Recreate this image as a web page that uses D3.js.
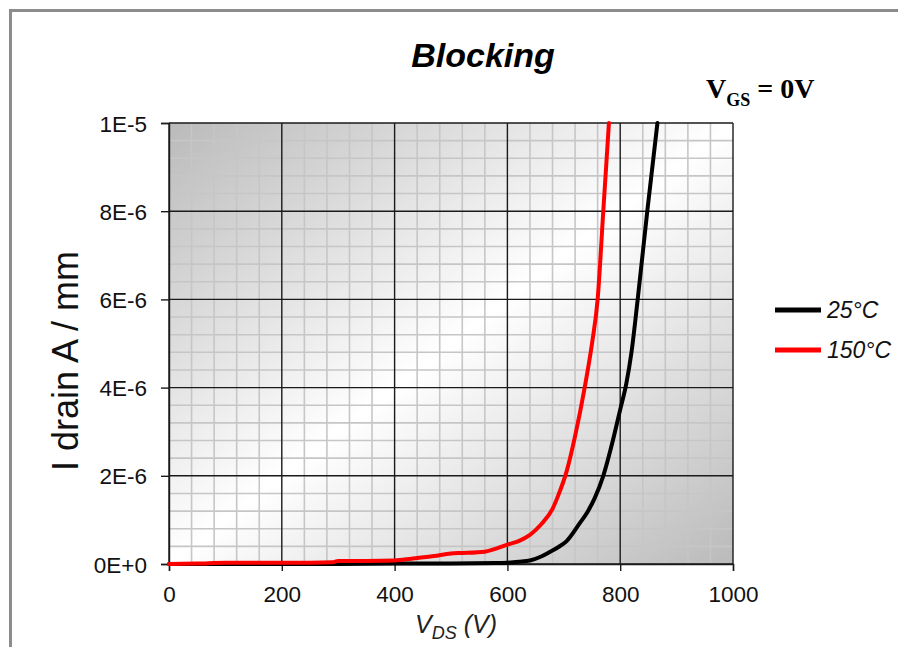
<!DOCTYPE html>
<html>
<head>
<meta charset="utf-8">
<script src="https://cdn.jsdelivr.net/npm/d3@7"></script>
<style>
  html, body { margin: 0; padding: 0; background: #fff; }
  svg { display: block; font-family: "Liberation Sans", Arial, sans-serif; }
</style>
</head>
<body>
<svg id="chart" width="898" height="647"></svg>
<script>
// Drain leakage current vs. drain-source voltage, V_GS = 0 V
const vds25 = [0, 300, 400, 500, 580, 600, 620, 640, 660, 675, 690, 705, 728, 742, 755, 770, 787, 800, 811, 820, 831, 848, 866];
const id25  = [0, 0, 0.01, 0.01, 0.02, 0.03, 0.05, 0.08, 0.17, 0.27, 0.38, 0.52, 0.92, 1.18, 1.5, 2.0, 2.8, 3.5, 4.1, 4.8, 6.0, 8.0, 10.0];

const vds150 = [0, 50, 100, 150, 200, 250, 290, 300, 350, 400, 430, 470, 500, 520, 560, 580, 600, 620, 640, 660, 680, 690, 705, 720, 737, 750, 760, 770, 780];
const id150  = [0, 0.01, 0.03, 0.03, 0.03, 0.03, 0.04, 0.07, 0.07, 0.08, 0.12, 0.18, 0.24, 0.25, 0.28, 0.35, 0.44, 0.52, 0.66, 0.9, 1.25, 1.55, 2.1, 2.9, 4.0, 5.0, 6.0, 8.0, 10.0];

const xTicks = [0, 200, 400, 600, 800, 1000];
const yTicks = [0, 2e-6, 4e-6, 6e-6, 8e-6, 1e-5];
const yTickLabels = ["0E+0", "2E-6", "4E-6", "6E-6", "8E-6", "1E-5"];

const seriesNames = ["25°C", "150°C"];
const seriesColors = ["#000000", "#ff0000"];

const svg = d3.select("#chart");
const plotL = 169, plotR = 733, plotT = 123, plotB = 564;

const x = d3.scaleLinear().domain([0, 1000]).range([plotL, plotR]);
const y = d3.scaleLinear().domain([0, 1e-5]).range([plotB, plotT]);

// Outer frame (top and left edges)
svg.append("path")
  .attr("d", `M10.5,647 L10.5,10.5 L898,10.5`)
  .attr("fill", "none").attr("stroke", "#8c8c8c").attr("stroke-width", 3);

// Plot-area shading
const defs = svg.append("defs");
const grad = defs.append("linearGradient").attr("id", "plotBg")
  .attr("x1", 0).attr("y1", 0).attr("x2", 1).attr("y2", 1);
grad.append("stop").attr("offset", "0%").attr("stop-color", "#bababa");
grad.append("stop").attr("offset", "50%").attr("stop-color", "#ffffff");
grad.append("stop").attr("offset", "100%").attr("stop-color", "#bababa");

svg.append("rect")
  .attr("x", plotL).attr("y", plotT)
  .attr("width", plotR - plotL).attr("height", plotB - plotT)
  .attr("fill", "url(#plotBg)");

// Minor grid
const xMinor = d3.range(0, 1001, 40).filter(v => v % 200 !== 0);
const yMinor = d3.range(0, 26).map(i => i * 0.4e-6).filter((v, i) => i % 5 !== 0);
svg.append("g").selectAll("line").data(xMinor).join("line")
  .attr("x1", d => x(d)).attr("x2", d => x(d))
  .attr("y1", plotT).attr("y2", plotB)
  .attr("stroke", "#c6c6c6").attr("stroke-width", 1.6);
svg.append("g").selectAll("line").data(yMinor).join("line")
  .attr("x1", plotL).attr("x2", plotR)
  .attr("y1", d => y(d)).attr("y2", d => y(d))
  .attr("stroke", "#c6c6c6").attr("stroke-width", 1.6);

// Major grid
svg.append("g").selectAll("line").data(xTicks).join("line")
  .attr("x1", d => x(d)).attr("x2", d => x(d))
  .attr("y1", plotT).attr("y2", plotB)
  .attr("stroke", "#1a1a1a").attr("stroke-width", 1.4);
svg.append("g").selectAll("line").data(yTicks).join("line")
  .attr("x1", plotL).attr("x2", plotR)
  .attr("y1", d => y(d)).attr("y2", d => y(d))
  .attr("stroke", "#1a1a1a").attr("stroke-width", 1.4);

// Axes
const xAxis = svg.append("g").attr("transform", `translate(0,${plotB})`)
  .call(d3.axisBottom(x).tickValues(xTicks).tickSize(7).tickPadding(15).tickFormat(d3.format("d")));
const yAxis = svg.append("g").attr("transform", `translate(${plotL},0)`)
  .call(d3.axisLeft(y).tickValues(yTicks).tickSize(8).tickPadding(14)
    .tickFormat((d, i) => yTickLabels[i]));
[xAxis, yAxis].forEach(g => {
  g.select(".domain").attr("stroke", "#1a1a1a").attr("stroke-width", 1.4);
  g.selectAll(".tick line").attr("stroke", "#1a1a1a").attr("stroke-width", 1.4);
  g.selectAll(".tick text").attr("fill", "#111").style("font-size", "22.5px")
    .style("font-family", "'Liberation Sans', Arial, sans-serif");
});
yAxis.selectAll(".tick text").attr("dy", "0.36em");

// Curves
const line = d3.line().x(d => x(d[0])).y(d => y(d[1] * 1e-6)).curve(d3.curveMonotoneX);
const series = [d3.zip(vds25, id25), d3.zip(vds150, id150)];
series.forEach((pts, i) => {
  svg.append("path").datum(pts)
    .attr("d", line)
    .attr("fill", "none")
    .attr("stroke", seriesColors[i])
    .attr("stroke-width", 4)
    .attr("stroke-linejoin", "round")
    .attr("stroke-linecap", "round");
});

// Title
svg.append("text").attr("x", 483).attr("y", 67)
  .attr("text-anchor", "middle")
  .style("font-size", "34px").style("font-weight", "bold").style("font-style", "italic")
  .attr("fill", "#000").text("Blocking");

// Condition label
const cond = svg.append("text").attr("x", 706).attr("y", 98)
  .style("font-family", "'Liberation Serif', 'Times New Roman', serif")
  .style("font-weight", "bold").style("font-size", "28px").attr("fill", "#000");
cond.append("tspan").text("V");
cond.append("tspan").attr("dy", 8).style("font-size", "18px").text("GS");
cond.append("tspan").attr("dy", -8).text(" = 0V");

// Axis titles
const xt = svg.append("text").attr("x", 415).attr("y", 633)
  .style("font-size", "25px").style("font-style", "italic").attr("fill", "#222");
xt.append("tspan").text("V");
xt.append("tspan").attr("dy", 6).style("font-size", "18px").text("DS");
xt.append("tspan").attr("dy", -6).text(" (V)");

svg.append("text")
  .attr("transform", "translate(78,361) rotate(-90)")
  .attr("text-anchor", "middle")
  .style("font-size", "36px").attr("fill", "#111")
  .text("I drain A / mm");

// Legend
const legend = svg.append("g");
seriesNames.forEach((name, i) => {
  const ly = 310 + i * 40;
  legend.append("line")
    .attr("x1", 775).attr("x2", 821).attr("y1", ly).attr("y2", ly)
    .attr("stroke", seriesColors[i]).attr("stroke-width", 5);
  legend.append("text").attr("x", 827).attr("y", ly + 8)
    .style("font-size", "23px").style("font-style", "italic").attr("fill", "#111")
    .text(name);
});
</script>
</body>
</html>
